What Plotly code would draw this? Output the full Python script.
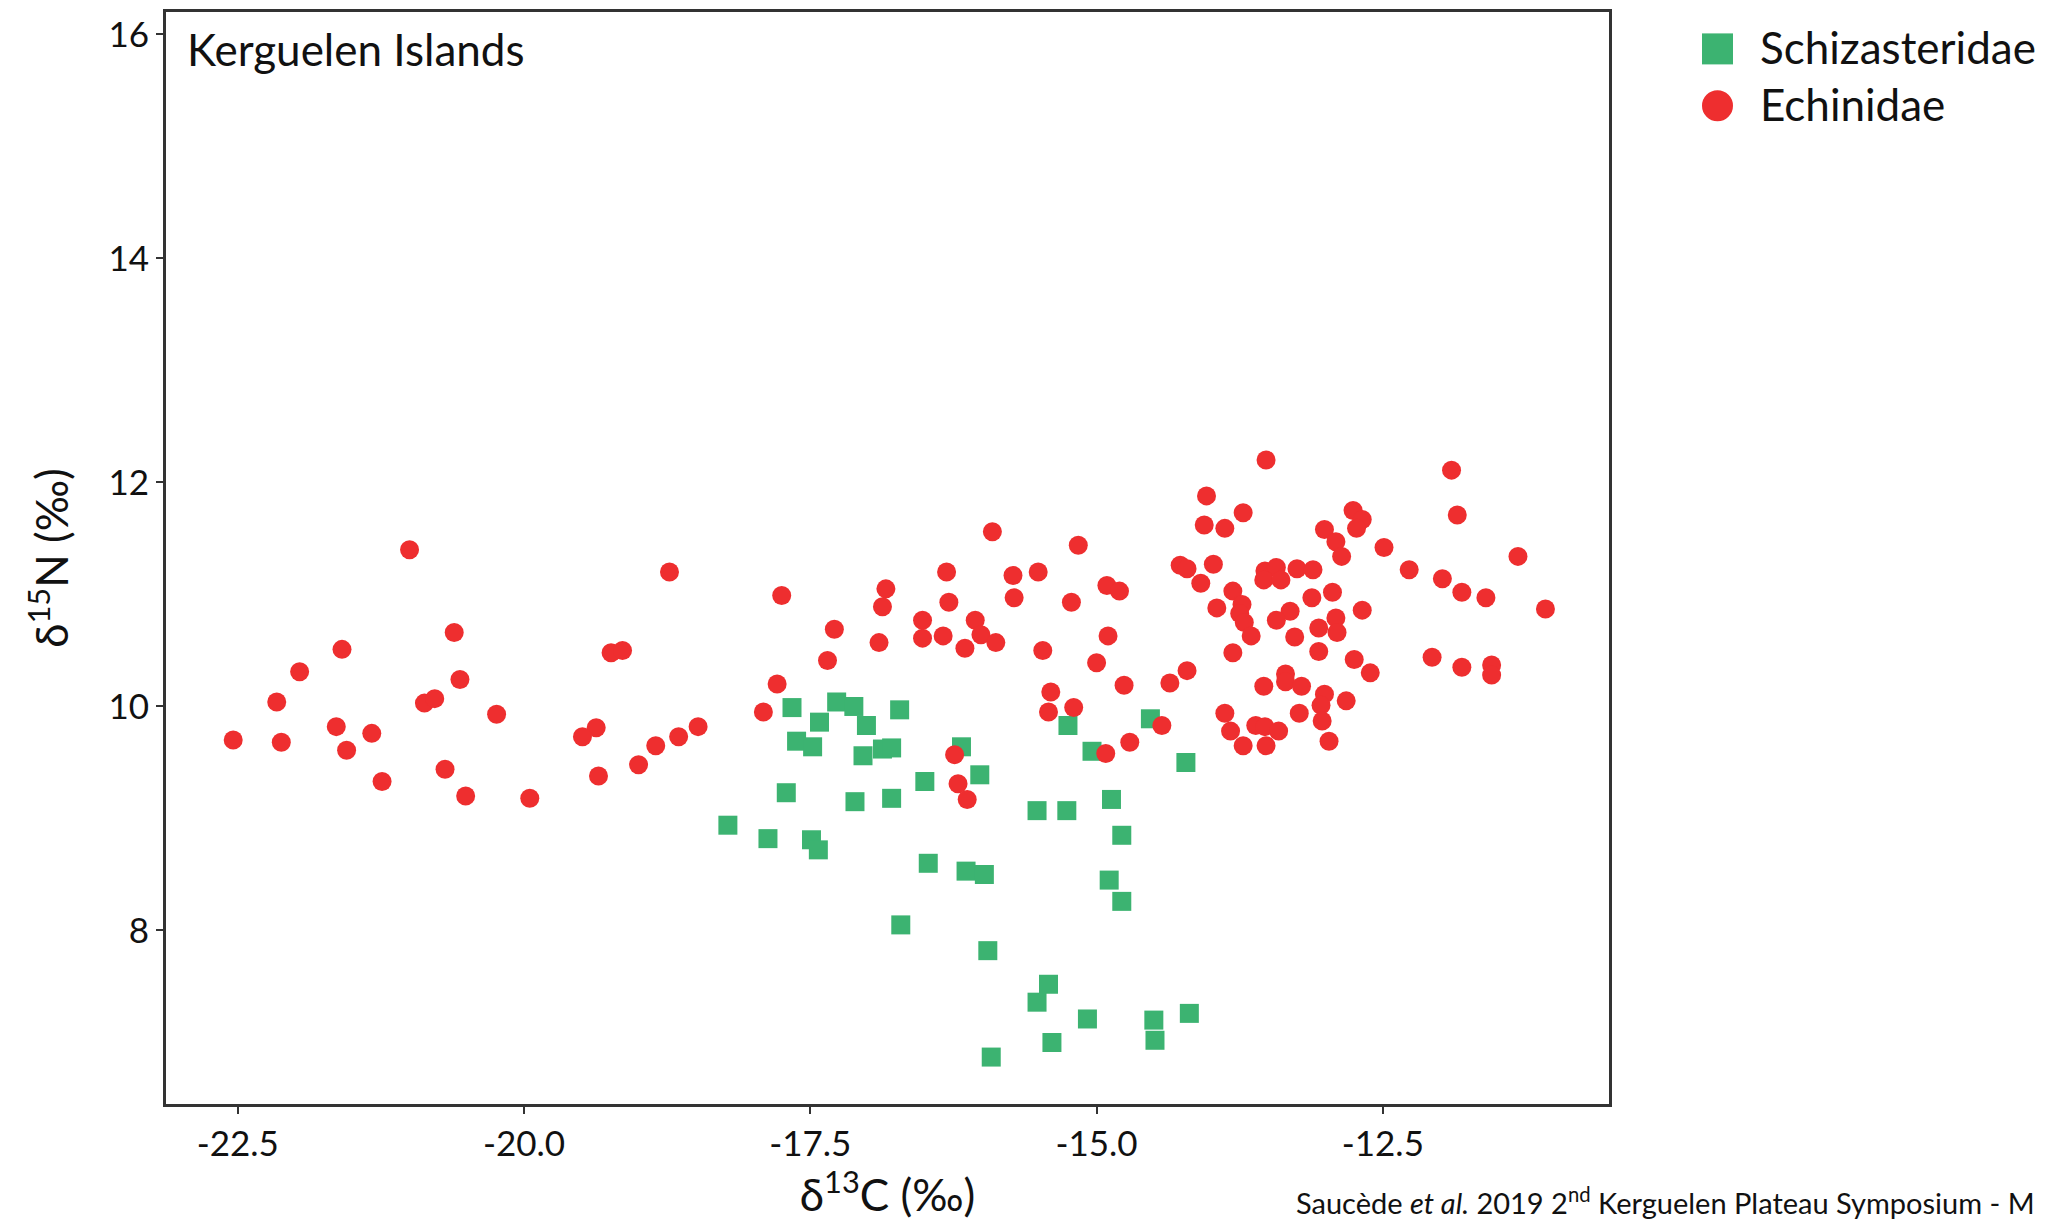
import plotly.graph_objects as go

# ---------------- data ----------------
schiz_x = [-17.66, -17.27, -17.12, -16.72, -17.42, -17.01, -17.62, -17.48, -17.04, -16.87,
           -16.79, -17.71, -17.11, -16.79, -18.22, -16.18, -16.02, -16.50, -17.87, -17.49,
           -17.43, -16.47, -16.14, -15.98, -16.71, -15.95, -15.92, -15.25, -14.53, -15.04,
           -14.22, -15.52, -15.26, -14.87, -14.78, -14.89, -14.78, -15.42, -15.52, -15.08,
           -14.50, -14.19, -15.39, -14.49]
schiz_y = [9.99, 10.04, 10.00, 9.97, 9.86, 9.83, 9.69, 9.64, 9.56, 9.62,
           9.63, 9.23, 9.15, 9.18, 8.94, 9.64, 9.39, 9.33, 8.82, 8.81,
           8.72, 8.60, 8.53, 8.50, 8.05, 7.82, 6.87, 9.83, 9.89, 9.60,
           9.50, 9.07, 9.07, 9.17, 8.85, 8.45, 8.26, 7.52, 7.36, 7.21,
           7.20, 7.26, 7.00, 7.02]

echin_x = [-21.00, -20.61, -21.59, -21.96, -20.56, -22.16, -20.87, -20.78, -20.24, -21.64,
           -21.33, -22.54, -22.12, -21.55, -20.69, -21.24, -20.51, -19.95,
           -18.73, -17.75, -16.84, -16.87, -17.29, -16.90, -17.35, -19.24, -19.14, -17.79,
           -17.91, -19.37, -19.49, -18.48, -18.65, -18.85, -19.00, -19.35,
           -16.24, -16.21, -16.13,
           -15.40, -15.42, -15.20, -14.76, -14.36, -14.43, -14.71, -14.92,
           -14.04, -14.06, -13.88, -15.91, -15.16, -16.31, -15.73, -15.51, -14.27, -14.21,
           -13.98, -14.09, -13.95, -14.91, -14.80, -16.29, -15.72, -15.22, -16.52, -16.06,
           -16.52, -16.34, -16.01, -16.15, -15.88, -15.47, -14.90, -15.00, -14.21, -13.88,
           -13.52, -11.90, -13.72, -11.85, -12.76, -12.68, -12.73, -13.01, -12.91, -12.86,
           -12.49, -11.32, -13.53, -13.43, -13.54, -13.39, -13.25, -13.11, -12.27, -11.98,
           -11.81, -11.60, -11.08, -13.81, -13.73, -13.75, -13.71, -13.65, -13.81, -13.12,
           -12.94, -13.31, -13.43, -13.06, -12.91, -12.90, -13.27, -12.68, -13.06, -12.75,
           -12.61, -12.07, -11.81, -11.55, -11.55, -13.54, -13.35, -13.35, -13.21, -13.01,
           -13.04, -12.82, -13.83, -13.23, -13.61, -13.53, -13.41, -13.03, -13.72, -13.52,
           -12.97]
echin_y = [11.40, 10.66, 10.51, 10.31, 10.24, 10.04, 10.03, 10.07, 9.93, 9.82,
           9.76, 9.70, 9.68, 9.61, 9.44, 9.33, 9.20, 9.18,
           11.20, 10.99, 11.05, 10.89, 10.69, 10.57, 10.41, 10.48, 10.50, 10.20,
           9.95, 9.81, 9.73, 9.82, 9.73, 9.65, 9.48, 9.38,
           9.57, 9.31, 9.17,
           10.13, 9.95, 9.99, 10.19, 10.21, 9.83, 9.68, 9.58,
           11.88, 11.62, 11.59, 11.56, 11.44, 11.20, 11.17, 11.20, 11.26, 11.23,
           11.27, 11.10, 10.88, 11.08, 11.03, 10.93, 10.97, 10.93, 10.77, 10.77,
           10.61, 10.63, 10.64, 10.52, 10.57, 10.50, 10.63, 10.39, 10.32, 9.94,
           12.20, 12.11, 11.73, 11.71, 11.75, 11.67, 11.59, 11.58, 11.47, 11.34,
           11.42, 11.34, 11.21, 11.24, 11.13, 11.13, 11.23, 11.22, 11.22, 11.14,
           11.02, 10.97, 10.87, 11.03, 10.91, 10.83, 10.75, 10.63, 10.48, 10.97,
           11.02, 10.85, 10.77, 10.70, 10.79, 10.66, 10.62, 10.86, 10.49, 10.42,
           10.30, 10.44, 10.35, 10.37, 10.28, 10.18, 10.29, 10.22, 10.18, 10.11,
           10.01, 10.05, 9.78, 9.94, 9.83, 9.82, 9.78, 9.87, 9.65, 9.65,
           9.69]

x_tickvals = [-22.5, -20.0, -17.5, -15.0, -12.5]
x_ticktext = ["-22.5", "-20.0", "-17.5", "-15.0", "-12.5"]
y_tickvals = [8, 10, 12, 14, 16]
y_ticktext = ["8", "10", "12", "14", "16"]

series_names = ["Schizasteridae", "Echinidae"]
panel_title = "Kerguelen Islands"
caption = "Saucède <i>et al.</i> 2019 2<sup>nd</sup> Kerguelen Plateau Symposium - M"

# ---------------- style ----------------
GREEN = "#3CB371"
RED = "#EE2E2F"
FONT = "Lato, 'Noto Sans', sans-serif"
W, H = 2048, 1224
L, R, T, B = 166, 439, 9, 120
PW, PH = W - L - R, H - T - B


def px(xpix):
    return (xpix - L) / PW


def py(ypix):
    return 1 - (ypix - T) / PH


fig = go.Figure()
fig.add_trace(go.Scatter(x=schiz_x, y=schiz_y, mode="markers", name=series_names[0],
                         marker=dict(symbol="square", size=19, color=GREEN, line=dict(width=0)),
                         showlegend=False))
fig.add_trace(go.Scatter(x=echin_x, y=echin_y, mode="markers", name=series_names[1],
                         marker=dict(symbol="circle", size=19, color=RED, line=dict(width=0)),
                         showlegend=False))

axis_common = dict(showline=True, mirror=True, linecolor="#333333", linewidth=3,
                   ticks="outside", ticklen=7, tickwidth=2, tickcolor="#333333",
                   showgrid=False, zeroline=False,
                   tickfont=dict(family=FONT, size=35, color="#111111"))

fig.update_xaxes(range=[-23.127, -10.525], tickmode="array", tickvals=x_tickvals,
                 ticktext=x_ticktext,
                 title=dict(text="δ<sup>13</sup>C (‰)", font=dict(family=FONT, size=44, color="#111111"),
                            standoff=19),
                 **axis_common)
fig.update_yaxes(range=[6.451, 16.20], tickmode="array", tickvals=y_tickvals,
                 ticktext=y_ticktext,
                 title=dict(text="δ<sup>15</sup>N (‰)", font=dict(family=FONT, size=44, color="#111111"),
                            standoff=26),
                 **axis_common)

# custom legend (large markers)
shapes = [
    dict(type="rect", xref="paper", yref="paper", xsizemode="pixel", ysizemode="pixel",
         xanchor=px(1717.5), yanchor=py(46), x0=-15.5, x1=15.5, y0=-15.5, y1=15.5,
         fillcolor=GREEN, line=dict(width=0)),
    dict(type="circle", xref="paper", yref="paper", xsizemode="pixel", ysizemode="pixel",
         xanchor=px(1717.5), yanchor=py(103), x0=-15.5, x1=15.5, y0=-15.5, y1=15.5,
         fillcolor=RED, line=dict(width=0)),
]

annotations = [
    dict(text=series_names[0], xref="paper", yref="paper", x=px(1758), y=py(44),
         xanchor="left", yanchor="middle", showarrow=False,
         font=dict(family=FONT, size=44, color="#111111")),
    dict(text=series_names[1], xref="paper", yref="paper", x=px(1758), y=py(101),
         xanchor="left", yanchor="middle", showarrow=False,
         font=dict(family=FONT, size=44, color="#111111")),
    dict(text=panel_title, xref="paper", yref="paper", x=px(185), y=py(46),
         xanchor="left", yanchor="middle", showarrow=False,
         font=dict(family=FONT, size=44, color="#111111")),
    dict(text=caption, xref="paper", yref="paper", x=px(1294), y=py(1222),
         xanchor="left", yanchor="bottom", showarrow=False,
         font=dict(family=FONT, size=29, color="#111111")),
]

fig.update_layout(width=W, height=H, autosize=False,
                  margin=dict(l=L, r=R, t=T, b=B, pad=0),
                  paper_bgcolor="white", plot_bgcolor="white",
                  shapes=shapes, annotations=annotations,
                  font=dict(family=FONT, color="#111111"))

fig.write_html("out.html")
